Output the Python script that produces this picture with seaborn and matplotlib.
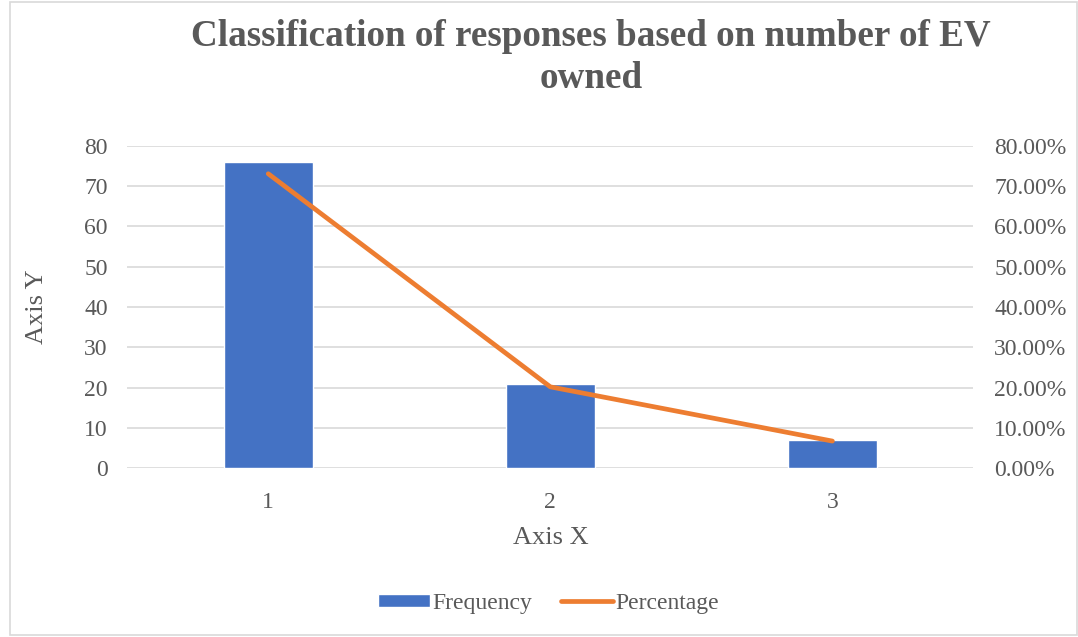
import matplotlib
matplotlib.use("Agg")
import matplotlib.pyplot as plt
import seaborn as sns
import pandas as pd
from matplotlib.patches import Patch
from matplotlib.lines import Line2D
from matplotlib.ticker import PercentFormatter

# data
categories = ["1", "2", "3"]
frequency = [76, 21, 7]
percentage = [0.7308, 0.2019, 0.0673]

title = "Classification of responses based on number of EV\nowned"
bar_color = "#4472C4"
line_color = "#ED7D31"
text_color = "#595959"
grid_color = "#D9D9D9"

sns.set_theme(style="white")
plt.rcParams["font.family"] = ["Liberation Serif", "DejaVu Serif"]

df = pd.DataFrame({"category": categories, "frequency": frequency, "percentage": percentage})

fig = plt.figure(figsize=(10.78, 6.37), dpi=100)
ax = fig.add_axes([0.118, 0.265, 0.785, 0.506])

sns.barplot(data=df, x="category", y="frequency", color=bar_color, width=0.316,
            saturation=1, ax=ax, zorder=2)
ax.set_ylim(0, 80)
ax.set_yticks(range(0, 81, 10))
ax.yaxis.grid(True, color=grid_color, linewidth=1.2, zorder=0)
ax.set_axisbelow(True)

ax2 = ax.twinx()
sns.pointplot(data=df, x="category", y="percentage", color=line_color, markers="",
              linewidth=3.4, errorbar=None, ax=ax2)
for ln in ax2.lines:
    ln.set_solid_capstyle("round")
ax2.set_ylim(0, 0.8)
ax2.set_yticks([i / 10 for i in range(9)])
ax2.yaxis.set_major_formatter(PercentFormatter(1.0, decimals=2))
ax2.set_ylabel("")

for a in (ax, ax2):
    for side in ["top", "right", "left", "bottom"]:
        a.spines[side].set_visible(False)
    a.tick_params(length=0, labelsize=17, labelcolor=text_color)
ax.tick_params(axis="x", pad=17)
ax.tick_params(axis="y", pad=14)
ax2.tick_params(axis="y", pad=15)

ax.set_xlabel("Axis X", fontsize=19, color=text_color, labelpad=10)
ax.set_ylabel("Axis Y", fontsize=19, color=text_color)
ax.yaxis.set_label_coords(-0.094, 0.5)

fig.text(0.548, 0.97, title, ha="center", va="top", fontsize=26.7, fontweight="bold",
         color=text_color, linespacing=1.25)

handles = [Patch(facecolor=bar_color, label="Frequency"),
           Line2D([0], [0], color=line_color, linewidth=3.4, solid_capstyle="round",
                  label="Percentage")]
fig.legend(handles=handles, loc="center", bbox_to_anchor=(0.509, 0.053), ncol=2,
           frameon=False, fontsize=17, labelcolor=text_color, handlelength=2.2,
           handleheight=0.45, handletextpad=0.1, columnspacing=1.2)

border = plt.Rectangle((0.009, 0.003), 0.99, 0.994, transform=fig.transFigure,
                       fill=False, edgecolor="#D9D9D9", linewidth=1.2)
fig.patches.append(border)

fig.savefig("out.png", dpi=100)
